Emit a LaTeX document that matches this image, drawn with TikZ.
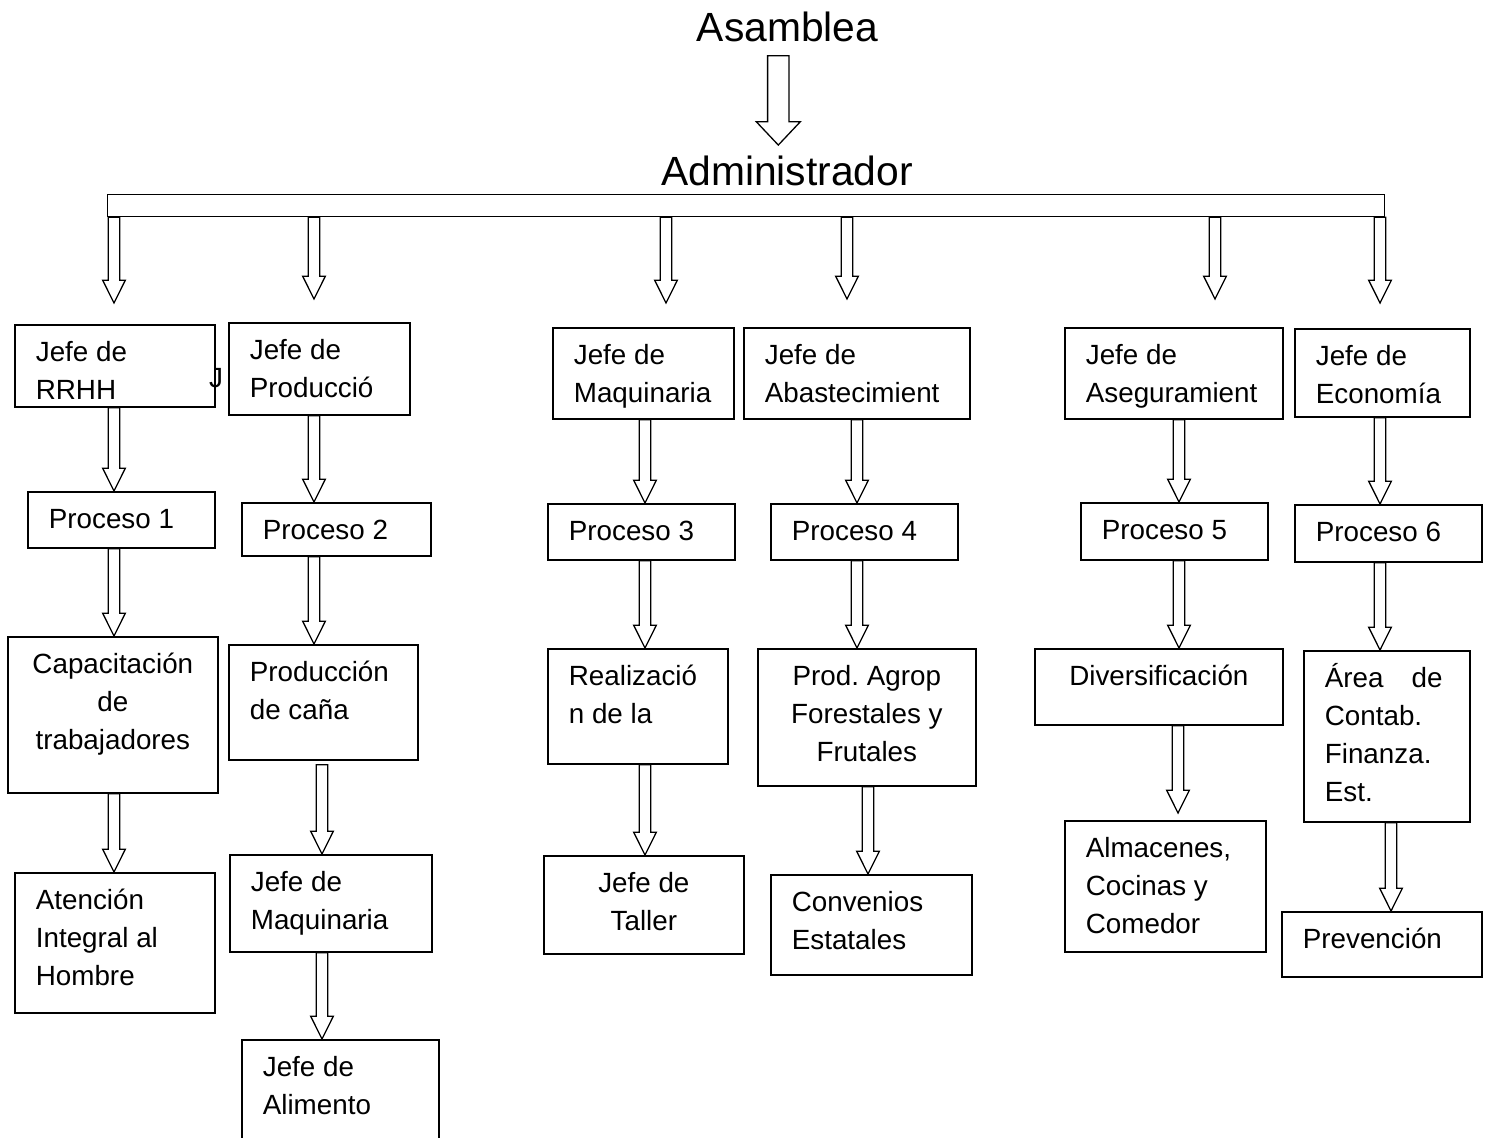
\documentclass[tikz,border=0pt]{standalone}
\usepackage{fontspec}
\setmainfont{Liberation Sans}
\usetikzlibrary{calc}
\hyphenpenalty=10000
\newcommand{\boxfont}{\fontsize{13.9pt}{19pt}\selectfont}
\tikzset{
  orgbox/.style 2 args={draw, line width=0.85pt, anchor=north west, inner xsep=10.5pt, inner ysep=5pt,
    execute at begin node={\boxfont\begin{minipage}[t][\dimexpr #2pt/2-10pt\relax][t]{\dimexpr #1pt/2-21pt\relax}\strut},
    execute at end node={\end{minipage}}},
  blockarr/.style={draw, line width=0.65pt, line join=miter},
  title/.style={font=\fontsize{20.4pt}{24pt}\selectfont, inner sep=0pt, anchor=base},
}
% hollow block arrow: x, from, to
\newcommand{\downarr}[3]{%
  \draw[blockarr] let \p1=(#2), \p2=(#3), \p3=(#1,0) in
    (\x3-2.85pt,\y1) -- (\x3-2.85pt,\y2+11.35pt) -- (\x3-5.65pt,\y2+11.35pt) -- (\x3,\y2)
    -- (\x3+5.65pt,\y2+11.35pt) -- (\x3+2.85pt,\y2+11.35pt) -- (\x3+2.85pt,\y1) -- cycle;}

\begin{document}
\begin{tikzpicture}[x=0.5pt,y=-0.5pt]
\useasboundingbox (0,0) rectangle (1493,1137);

\node[title] (asm) at (787.5,41) {Asamblea};
\node[title] (adm) at (787,185) {Administrador};
\draw[blockarr] let \p1=([yshift=-7pt]asm.south), \p2=([yshift=5pt]adm.north), \p3=(778.3,0) in
  (\x3-5.35pt,\y1) -- (\x3-5.35pt,\y2+11.65pt) -- (\x3-11pt,\y2+11.65pt) -- (\x3,\y2)
  -- (\x3+11pt,\y2+11.65pt) -- (\x3+5.35pt,\y2+11.65pt) -- (\x3+5.35pt,\y1) -- cycle;

\node[draw, line width=0.65pt, anchor=north west, inner sep=0pt, minimum width=638.5pt, minimum height=11pt] (bar) at (107,194) {};
\coordinate (t1) at (114,303);
\coordinate (t2) at (314,299);
\coordinate (t3) at (666,303);
\coordinate (t4) at (847,299);
\coordinate (t5) at (1215,299);
\coordinate (t6) at (1380,303);
\downarr{114}{bar.south}{t1}
\downarr{314}{bar.south}{t2}
\downarr{666}{bar.south}{t3}
\downarr{847}{bar.south}{t4}
\downarr{1215}{bar.south}{t5}
\downarr{1380}{bar.south}{t6}

% jefes
\node[orgbox={200}{82}] (rrhh) at (14,324) {Jefe de\\RRHH};
\node[anchor=base, inner sep=0pt] (jstray) at (216,387) {\boxfont J};
\node[orgbox={181}{92}] (prod) at (228,322) {Jefe de\\Producció};
\node[orgbox={181}{91}] (maq) at (552,327) {Jefe de\\Maquinaria};
\node[orgbox={226}{91}] (abas) at (743,327) {Jefe de\\Abastecimient};
\node[orgbox={218}{91}] (aseg) at (1064,327) {Jefe de\\Aseguramient};
\node[orgbox={175}{88}] (econ) at (1294,328) {Jefe de\\Economía};

% procesos
\node[orgbox={187}{56}] (p1) at (27,491) {Proceso 1};
\node[orgbox={189}{53}] (p2) at (241,502) {Proceso 2};
\node[orgbox={187}{56}] (p3) at (547,503) {Proceso 3};
\node[orgbox={187}{56}] (p4) at (770,503) {Proceso 4};
\node[orgbox={187}{57}] (p5) at (1080,502) {Proceso 5};
\node[orgbox={187}{57}] (p6) at (1294,504) {Proceso 6};

% areas
\node[orgbox={210}{156}] (cap) at (7,636) {\centering Capacitación\\de\\trabajadores\par};
\node[orgbox={189}{115}] (cana) at (228,644) {Producción\\de caña};
\node[orgbox={180}{115}] (real) at (547,648) {Realizació\\n de la};
\node[orgbox={218}{137}] (agro) at (757,648) {\centering Prod.\ Agrop\\Forestales y\\Frutales\par};
\node[orgbox={248}{76}] (div) at (1034,648) {\centering Diversificación\par};
\node[orgbox={166}{171}] (area) at (1303,650) {Área\hspace{14pt}de\\Contab.\\Finanza.\\Est.};

\node[orgbox={200}{140}] (aten) at (14,872) {Atención\\Integral al\\Hombre};
\node[orgbox={202}{97}] (jmaq) at (229,854) {Jefe de\\Maquinaria};
\node[orgbox={200}{98}] (tall) at (543,855) {\centering Jefe de\\Taller\par};
\node[orgbox={201}{100}] (conv) at (770,874) {Convenios\\Estatales};
\node[orgbox={201}{131}] (alma) at (1064,820) {Almacenes,\\Cocinas y\\Comedor};
\node[orgbox={200}{65}] (prev) at (1281,911) {Prevención};
\node[orgbox={197}{110}] (alim) at (241,1039) {Jefe de\\Alimento};

\downarr{114}{rrhh.south}{p1.north}
\downarr{114}{p1.south}{cap.north}
\downarr{114}{cap.south}{aten.north}
\downarr{314}{prod.south}{p2.north}
\downarr{314}{p2.south}{cana.north}
\downarr{322}{[yshift=-2pt]cana.south}{jmaq.north}
\downarr{322}{jmaq.south}{alim.north}
\downarr{645}{maq.south}{p3.north}
\downarr{645}{p3.south}{real.north}
\downarr{645}{real.south}{tall.north}
\downarr{857}{abas.south}{p4.north}
\downarr{857}{p4.south}{agro.north}
\downarr{868}{agro.south}{conv.north}
\downarr{1179}{aseg.south}{p5.north}
\downarr{1179}{p5.south}{div.north}
\downarr{1178}{div.south}{[yshift=3.5pt]alma.north}
\downarr{1380}{econ.south}{p6.north}
\downarr{1380}{p6.south}{area.north}
\downarr{1391}{area.south}{prev.north}
\end{tikzpicture}
\end{document}
